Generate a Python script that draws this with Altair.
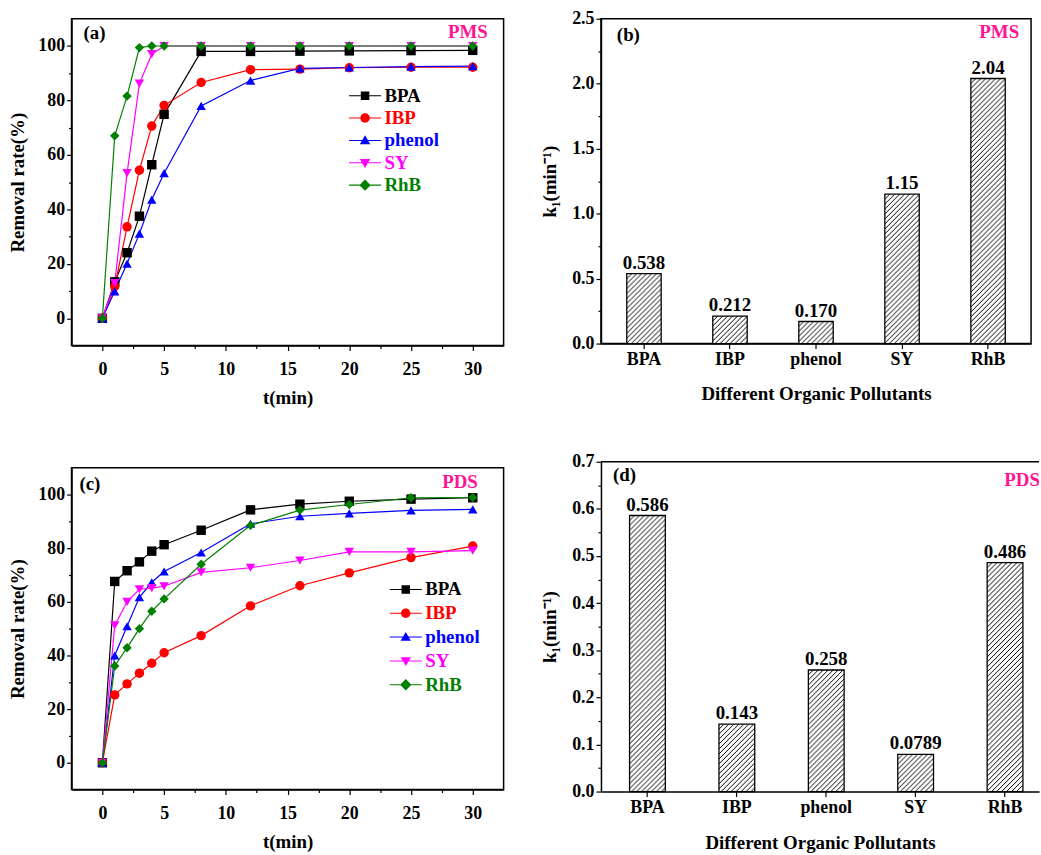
import altair as alt
import pandas as pd
from urllib.parse import quote

FONT = "Liberation Serif"

series = ["BPA", "IBP", "phenol", "SY", "RhB"]
colors = ["#000000", "#FF0000", "#0000FF", "#FF00FF", "#008000"]
times = [0, 1, 2, 3, 4, 5, 8, 12, 16, 20, 25, 30]

# (a) PMS removal rate (%)
pms_rates = {
    "BPA":    [0, 13.4, 24.1, 37.5, 56.4, 74.9, 98.0, 98.0, 98.1, 98.2, 98.3, 98.4],
    "IBP":    [0, 11.7, 33.6, 54.4, 70.6, 78.2, 86.6, 91.3, 91.5, 92.0, 92.2, 92.2],
    "phenol": [0, 9.9, 20.1, 31.1, 43.6, 53.3, 78.0, 87.3, 91.8, 92.1, 92.4, 92.6],
    "SY":     [0, 12.9, 53.3, 86.2, 97.0, 100, 100, 100, 100, 100, 100, 100],
    "RhB":    [0, 67.0, 81.6, 99.4, 100, 100, 100, 100, 100, 100, 100, 100],
}
# (c) PDS removal rate (%)
pds_rates = {
    "BPA":    [0, 67.6, 71.6, 74.9, 78.9, 81.3, 86.7, 94.3, 96.4, 97.5, 98.3, 98.8],
    "IBP":    [0, 25.3, 29.4, 33.4, 37.1, 41.0, 47.4, 58.5, 66.0, 70.8, 76.5, 80.8],
    "phenol": [0, 40.0, 50.9, 61.7, 67.3, 71.3, 78.4, 89.1, 91.9, 93.0, 94.1, 94.5],
    "SY":     [0, 51.2, 60.0, 64.7, 65.1, 65.8, 71.0, 72.7, 75.4, 78.6, 78.6, 79.1],
    "RhB":    [0, 36.1, 42.9, 50.0, 56.5, 61.1, 74.0, 88.5, 94.2, 96.3, 98.8, 98.9],
}

# (b) and (d) k1 (min^-1)
pms_k = [0.538, 0.212, 0.170, 1.15, 2.04]
pms_k_labels = ["0.538", "0.212", "0.170", "1.15", "2.04"]
pds_k = [0.586, 0.143, 0.258, 0.0789, 0.486]
pds_k_labels = ["0.586", "0.143", "0.258", "0.0789", "0.486"]

x_ticks = [i * 2.5 for i in range(13)]
y_ticks = [i * 10 for i in range(11)]
kb_ticks = [i * 0.25 for i in range(11)]
kd_ticks = [round(i * 0.05, 2) for i in range(15)]

marker_shapes = ["square", "circle", "triangle-up", "triangle-down", "diamond"]
LINE = "M-3.4,-0.11H3.4V0.11H-3.4Z "
legend_shapes = [
    LINE + "M-0.9,-0.9H0.9V0.9H-0.9Z",
    LINE + "M1,0A1,1 0 1,1 -1,0A1,1 0 1,1 1,0Z",
    LINE + "M0,-1.1L1.1,0.8L-1.1,0.8Z",
    LINE + "M0,1.1L-1.1,-0.8L1.1,-0.8Z",
    LINE + "M0,-1.2L1.2,0L0,1.2L-1.2,0Z",
]

hatch_svg = (
    "<svg xmlns='http://www.w3.org/2000/svg'>"
    "<defs><pattern id='h' patternUnits='userSpaceOnUse' width='5' height='5'>"
    "<path d='M-1,1L1,-1M0,5L5,0M4,6L6,4' stroke='#000' stroke-width='1'/>"
    "</pattern></defs><rect width='100%' height='100%' fill='white'/>"
    "<rect width='100%' height='100%' fill='url(#h)'/></svg>"
)
HATCH = "data:image/svg+xml;charset=utf-8," + quote(hatch_svg)

series_color_expr = ""
for name, col in zip(series[:-1], colors[:-1]):
    series_color_expr += f"datum.value === '{name}' ? '{col}' : "
series_color_expr += f"'{colors[-1]}'"

PINK = "#FF1493"


def long_df(rates):
    rows = []
    for s in series:
        for t, v in zip(times, rates[s]):
            rows.append({"series": s, "t": t, "rate": v})
    return pd.DataFrame(rows)


def note(text, x, y, color="black", align="left", clip=False):
    return alt.Chart(pd.DataFrame({"note": [text]})).mark_text(
        font=FONT, fontSize=19, fontWeight="bold", color=color,
        align=align, baseline="middle", clip=clip,
    ).encode(x=alt.value(x), y=alt.value(y), text="note:N")


def line_panel(rates, tag, tag_xy, ox, ox_xy, height, legend_xy, row_pad, x_title_pad):
    df = long_df(rates)
    x = alt.X("t:Q", scale=alt.Scale(domain=[-2.5, 32.5], nice=False, zero=False),
              axis=alt.Axis(values=x_ticks, title="t(min)",
                            labelExpr="datum.value % 5 === 0 ? datum.label : ''",
                            tickSize={"condition": {"test": "datum.value % 5 !== 0", "value": 3}, "value": 5},
                            labelPadding=10, titlePadding=x_title_pad))
    y = alt.Y("rate:Q", scale=alt.Scale(domain=[-10, 110], nice=False, zero=False),
              axis=alt.Axis(values=y_ticks, title="Removal rate(%)",
                            labelExpr="datum.value % 20 === 0 ? datum.label : ''",
                            tickSize={"condition": {"test": "datum.value % 20 !== 0", "value": 3}, "value": 5},
                            labelPadding=2, titlePadding=10))
    base = alt.Chart(df)

    def cenc(legend):
        return alt.Color("series:N", scale=alt.Scale(domain=series, range=colors), legend=legend)

    lines = base.mark_line(strokeWidth=1.2).encode(x=x, y=y, color=cenc(None), order="t:Q")
    pts = base.mark_point(filled=True, size=90, opacity=1).encode(
        x=x, y=y, color=cenc(None),
        shape=alt.Shape("series:N", scale=alt.Scale(domain=series, range=marker_shapes), legend=None))
    leg = alt.Legend(orient="none", legendX=legend_xy[0], legendY=legend_xy[1], title=None,
                     labelFont=FONT, labelFontSize=19, labelFontWeight="bold",
                     labelColor={"expr": series_color_expr},
                     symbolSize=90, symbolStrokeWidth=0,
                     labelOffset=10, rowPadding=row_pad, padding=0)
    legend_layer = base.mark_point(filled=True, opacity=1).transform_filter("false").encode(
        x=x, y=y, color=cenc(leg),
        shape=alt.Shape("series:N", scale=alt.Scale(domain=series, range=legend_shapes), legend=leg))
    layers = [lines, pts, legend_layer,
              note(tag, tag_xy[0], tag_xy[1]),
              note(ox, ox_xy[0], ox_xy[1], color=PINK, align="right")]
    return alt.layer(*layers).resolve_scale(
        shape="independent", color="independent").properties(width=435, height=height)


def bar_panel(vals, labels, ymax, ticks, major_expr, tag, tag_xy, ox, ox_xy,
              width, height, pad_outer, align, x_title_pad, framed=True):
    df = pd.DataFrame({"pollutant": series, "k": vals, "label": labels})
    x = alt.X("pollutant:N", sort=series,
              scale=alt.Scale(domain=series, paddingInner=0.6, paddingOuter=pad_outer, align=align),
              axis=alt.Axis(title="Different Organic Pollutants", labelAngle=0,
                            labelPadding=2, titlePadding=x_title_pad))
    y = alt.Y("k:Q", scale=alt.Scale(domain=[0, ymax], nice=False, zero=False),
              axis=alt.Axis(values=ticks, title="k₁(min⁻¹)",
                            labelExpr=f"{major_expr} ? format(datum.value, '.1f') : ''",
                            tickSize={"condition": {"test": f"!({major_expr})", "value": 3}, "value": 5},
                            labelPadding=2, titlePadding=12))
    base = alt.Chart(df)
    hatch = base.mark_image(aspect=False).encode(x=x, y=y, y2=alt.datum(0), url=alt.value(HATCH))
    outline = base.mark_bar(fill="transparent", stroke="black", strokeWidth=1.3).encode(x=x, y=y)
    text = base.mark_text(font=FONT, fontSize=19, fontWeight="bold", baseline="bottom", dy=-1,
                          color="black").encode(x=x, y=y, text="label:N")
    layers = [hatch, outline, text, note(tag, tag_xy[0], tag_xy[1])]
    if framed:
        layers.append(note(ox, ox_xy[0], ox_xy[1], color=PINK, align="right"))
        ch = alt.layer(*layers)
    else:
        top = alt.Chart(pd.DataFrame({"edge": [0]})).mark_rule(color="black", strokeWidth=1.5).encode(
            y=alt.value(0))
        layers.append(note(ox, ox_xy[0], ox_xy[1], color=PINK, align="left", clip=True))
        layers.append(top)
        ch = alt.layer(*layers).properties(view=alt.ViewBackground(stroke="transparent"))
    return ch.properties(width=width, height=height)


pa = line_panel(pms_rates, "(a)", (12, 14.5), "PMS", (419, 13.5), 329, (286, 68), 2.5, 10)
pc = line_panel(pds_rates, "(c)", (8, 16), "PDS", (409, 14), 324, (327, 113), 4.0, 10)
pb = bar_panel(pms_k, pms_k_labels, 2.5, kb_ticks, "round(datum.value*100) % 50 === 0",
               "(b)", (16, 16), "PMS", (421, 13), 433, 327, 0.3, 0.5, 16)
pdd = bar_panel(pds_k, pds_k_labels, 0.7, kd_ticks, "round(datum.value*100) % 10 === 0",
                "(d)", (12, 13), "PDS", (406, 18), 441, 332, 0.25, 0.64, 17, framed=False)

left = alt.vconcat(pa, pc, spacing=59)
right = alt.vconcat(pb, pdd, spacing=48)

chart = alt.hconcat(left, right, spacing=35).properties(
    padding={"left": 8, "top": 6, "right": 0, "bottom": 0},
    background="white",
).configure_view(
    stroke="black", strokeWidth=1.5
).configure_axis(
    grid=False, domainColor="black", domainWidth=1.5, tickColor="black", tickWidth=1.2,
    labelFont=FONT, labelFontSize=18, labelFontWeight="bold", labelColor="black",
    titleFont=FONT, titleFontSize=19, titleFontWeight="bold", titleColor="black",
)

chart.save("out.html", embed_options={"renderer": "svg", "actions": False})
